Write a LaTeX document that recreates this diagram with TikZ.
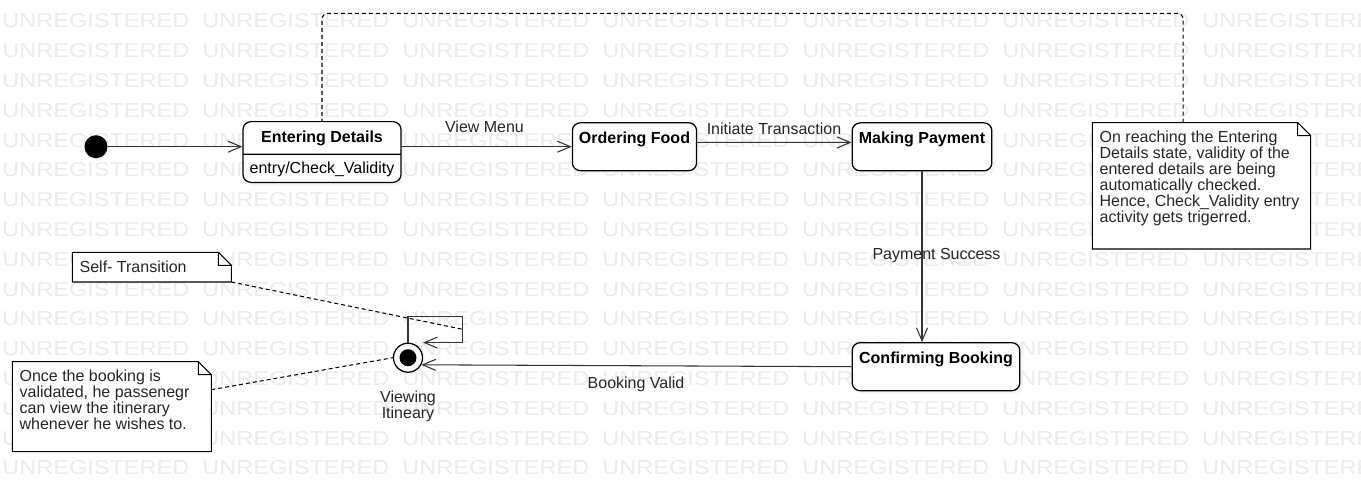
\documentclass[tikz,border=0pt]{standalone}
\usepackage{fontspec}
\setmainfont{Liberation Sans}
\usepackage{tikz}
\usetikzlibrary{arrows.meta}
\usetikzlibrary{positioning}
\usetikzlibrary{shapes.multipart}
\usetikzlibrary{shadows}
\tikzset{>={Straight Barb[length=0.26cm,width=0.22cm]}}
\newcommand{\diagsize}{\fontsize{9.1}{9.05}\selectfont}
\tikzset{
	state/.style={draw,rounded corners=0.16cm,fill=white,line width=0.7pt,inner xsep=0.11cm,inner ysep=0,text height=0.406cm,text depth=0.554cm,font=\diagsize\bfseries,drop shadow={shadow xshift=0.06cm,shadow yshift=-0.06cm,fill=black!7}},
	lbl/.style={anchor=base,inner sep=0,text=black!85,font=\diagsize},
	note/.style={fill=white,anchor=north west,inner xsep=0.14cm,inner ysep=0.16cm,text=black!85,font=\diagsize},
	notebd/.style={line width=0.6pt},
	noteline/.style={dash pattern=on 0.08cm off 0.06cm,line width=0.6pt},
	trans/.style={->,line width=0.6pt,draw=black!80},
	wm/.style={anchor=base west,inner sep=0,text=black!8,font=\fontsize{11.4}{12}\selectfont}
}

\begin{document}
\begin{tikzpicture}[font=\diagsize]
	\path[use as bounding box,fill=white] (0,0) rectangle (27.22,-10.04);
	% watermark
	\begin{scope}
		\clip (0,0) rectangle (27.22,-10.04);
		\foreach \k in {0,...,15}
			\foreach \j in {0,...,6}
				\node[wm] (wm-\k-\j) at ({0.04+4*\j},{-0.557-0.596*\k}) {\scalebox{1.175}[1]{UNREGISTERED}};
	\end{scope}
	% states
	\node[circle,fill=black,minimum size=0.46cm,inner sep=0,drop shadow={shadow xshift=0.06cm,shadow yshift=-0.06cm,fill=black!7}] (init) at (1.92,-2.934) {};
	\node[draw,rounded corners=0.16cm,fill=white,line width=0.7pt,rectangle split,rectangle split parts=2,minimum width=3.16cm,inner xsep=0.11cm,inner ysep=0,font=\diagsize\bfseries,drop shadow={shadow xshift=0.06cm,shadow yshift=-0.06cm,fill=black!7}] (entering) at (6.44,-3.04) {\rule[-0.226cm]{0pt}{0.626cm}Entering Details\nodepart{two}\rule[-0.166cm]{0pt}{0.54cm}\mdseries entry/Check\_Validity};
	\node[state,minimum width=2.484cm] (ordering) at (12.69,-2.934) {Ordering Food};
	\node[state,minimum width=2.794cm] (payment) at (18.44,-2.937) {Making Payment};
	\node[state,minimum width=3.354cm] (confirm) at (18.72,-7.334) {Confirming Booking};
	\node[circle,draw,fill=white,line width=0.7pt,minimum size=0.58cm,inner sep=0,drop shadow={shadow xshift=0.05cm,shadow yshift=-0.05cm,fill=black!7}] (final) at (8.16,-7.154) {};
	\node[circle,fill=black,minimum size=0.34cm,inner sep=0] (finaldot) at (final) {};
	\node[align=center,inner sep=0,text=black!85,font=\fontsize{9.1}{9.5}\selectfont,below=0.35cm of final] (lfinal) {Viewing\\Itineary};
	% transitions
	\draw[trans] (init) -- (init -| entering.west);
	\draw[trans] (entering.east |- ordering) -- (ordering.west);
	\draw[trans] ([yshift=0.088cm]ordering.east) -- ([yshift=0.088cm]payment.west);
	\draw[trans] (payment.south) -- (payment.south |- confirm.north);
	\draw[trans] (confirm.west) -- (final.-28);
	\coordinate (loopr) at (9.254,-6.334);
	\draw[trans] (final.north) |- (loopr) |- (final.north -| final.east);
	\node[lbl] (lview) at (9.69,-2.654) {View Menu};
	\node[lbl] (linit) at (15.48,-2.68) {Initiate Transaction};
	\node[lbl] (lpay) at (18.73,-5.18) {Payment Success};
	\node[lbl] (lbook) at (12.72,-7.768) {Booking Valid};
	% notes
	\node[note] (notecheck) at (21.846,-2.454) {\parbox[t][2.192cm][t]{4.074cm}{\raggedright On reaching the Entering\\Details state, validity of the\\entered details are being\\automatically checked.\\Hence, Check\_Validity entry\\activity gets trigerred.}};
	\node[note] (noteself) at (1.446,-5.046) {\parbox[t][0.26cm][t]{2.888cm}{\raggedright Self- Transition}};
	\node[note] (noteview) at (0.246,-7.234) {\parbox[t][1.466cm][t]{3.688cm}{\raggedright Once the booking is\\validated, he passenegr\\can view the itinerary\\whenever he wishes to.}};
	\foreach \n in {noteself,noteview,notecheck}
		\draw[notebd] (\n.south west) -- (\n.north west) -- ([xshift=-0.26cm]\n.north east) -- ([yshift=-0.26cm]\n.north east) -- (\n.south east) -- cycle ([xshift=-0.26cm]\n.north east) |- ([yshift=-0.26cm]\n.north east);
	\coordinate (selfend) at (9.254,-6.586);
	\draw[noteline] (noteself.south east) -- (selfend);
	\draw[noteline] ([yshift=0.34cm]noteview.east) -- (final.west);
	\coordinate (chktop) at (0,-0.266);
	\draw[noteline,rounded corners=0.12cm] ([xshift=-0.366cm]notecheck.north) |- (chktop -| entering.north) -- (entering.north);
\end{tikzpicture}
\end{document}
